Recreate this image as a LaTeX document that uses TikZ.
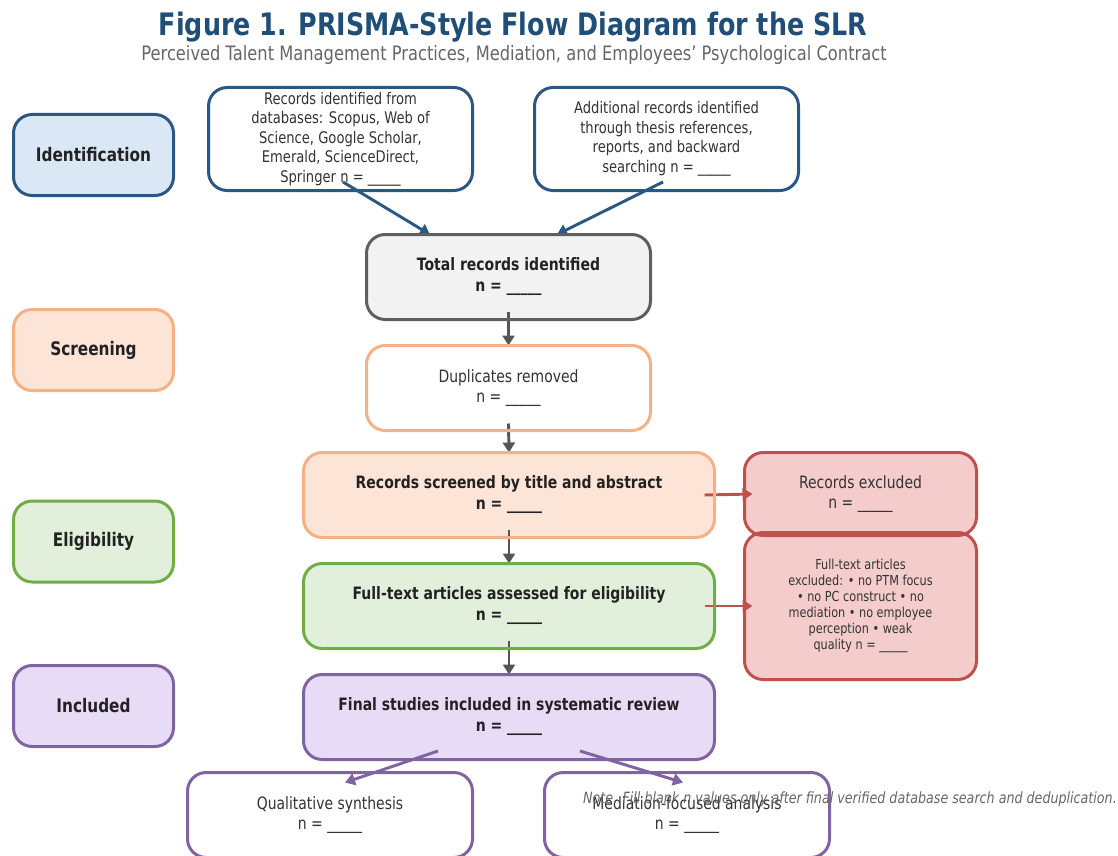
\documentclass[tikz,border=0pt]{standalone}
\usepackage{fontspec}
\setmainfont{DejaVu Sans}[FakeStretch=0.82]
\usetikzlibrary{calc,arrows.meta}

% colours
\definecolor{titleblue}{HTML}{1F4E79}
\definecolor{subgray}{HTML}{666666}
\definecolor{txtdark}{HTML}{222222}
\definecolor{txtreg}{HTML}{333333}
\definecolor{blueB}{HTML}{2B5784}
\definecolor{blueF}{HTML}{DAE8F5}
\definecolor{grayB}{HTML}{5F5F5F}
\definecolor{grayF}{HTML}{F2F2F2}
\definecolor{orangeB}{HTML}{F4B183}
\definecolor{orangeF}{HTML}{FCE4D6}
\definecolor{greenB}{HTML}{70AD47}
\definecolor{greenF}{HTML}{E2EFDA}
\definecolor{redB}{HTML}{C0504D}
\definecolor{redF}{HTML}{F4CCCC}
\definecolor{purpleB}{HTML}{8064A2}
\definecolor{purpleF}{HTML}{E8DBF6}
\definecolor{arrowgray}{HTML}{555555}

% font sizes
\newcommand\fsTitle{\fontsize{23.2pt}{27pt}\selectfont}
\newcommand\fsSub{\fontsize{14.9pt}{17pt}\selectfont}
\newcommand\fsPhase{\fontsize{14pt}{16pt}\selectfont}
\newcommand\fsBold{\fontsize{12.8pt}{15.75pt}\selectfont}
\newcommand\fsReg{\fontsize{12.75pt}{14.6pt}\selectfont}
\newcommand\fsSrc{\fontsize{12pt}{14.6pt}\selectfont}
\newcommand\fsSmall{\fontsize{10.3pt}{12pt}\selectfont}
\newcommand\fsNote{\fontsize{11.6pt}{13pt}\selectfont}
\newcommand\blank{\_\_\_\_\_}

\begin{document}
\begin{tikzpicture}[x=0.75pt,y=-0.75pt,
  box/.style={rounded corners=14pt, align=center, outer sep=0pt,
              inner sep=0pt, text=txtreg, font=\fsReg},
  phase/.style={box, minimum width=120pt, minimum height=60.75pt,
                font=\fsPhase\bfseries, text=txtdark},
  srcbox/.style={box, fill=white, minimum width=198pt,
                 minimum height=77.25pt, font=\fsSrc},
  midbox/.style={box, minimum width=213pt, minimum height=63.75pt},
  widebox/.style={box, minimum width=308.25pt, minimum height=63.75pt,
                  font=\fsBold\bfseries, text=txtdark},
  exbox/.style={box, fill=redF, minimum width=174pt},
  outbox/.style={box, fill=white, minimum width=213.75pt,
                 minimum height=63.75pt},
  rim/.style={line width=2.25pt, rounded corners=14pt},
  flow/.style={line width=2.2pt, -{Triangle[length=7.5pt,width=9pt]}},
]
\useasboundingbox (0,0) rectangle (1118,856);

% heading
\node[font=\fsTitle\bfseries, text=titleblue] (title) at (513,27)
  {Figure 1. PRISMA-Style Flow Diagram for the SLR};
\node[font=\fsSub, text=subgray] (subtitle) at (514,55)
  {Perceived Talent Management Practices, Mediation, and Employees’ Psychological Contract};

% phase labels (filled panels; outlines drawn last)
\node[phase, fill=blueF] (idl) at (93.5,155) {Identification};
\node[phase, fill=orangeF] (scl) at (93.5,350) {Screening};
\node[phase, fill=greenF] (ell) at (93.5,541.5) {Eligibility};
\node[phase, fill=purpleF] (inl) at (93.5,706) {Included};

% identification sources
\node[srcbox] (db) at (340.5,139)
  {Records identified from\\ databases: Scopus, Web of\\ Science, Google Scholar,\\
   Emerald, ScienceDirect,\\ Springer n = \blank};
\node[srcbox] (add) at (666.5,139)
  {Additional records identified\\ through thesis references,\\ reports, and backward\\
   searching n = \blank};

% main flow
\node[midbox, fill=grayF, font=\fsBold\bfseries, text=txtdark] (tot)
  at (508.5,277) {Total records identified\\ n = \blank};
\node[midbox, fill=white] (dup) at (508.5,388)
  {Duplicates removed\\ n = \blank};
\node[widebox, fill=orangeF] (scr) at (509,495)
  {Records screened by title and abstract\\ n = \blank};
\node[widebox, fill=greenF] (ful) at (509,606)
  {Full-text articles assessed for eligibility\\ n = \blank};
\node[widebox, fill=purpleF] (fin) at (509,717)
  {Final studies included in systematic review\\ n = \blank};

% exclusions
\node[exbox, minimum height=62.25pt] (exc) at (860.5,494)
  {Records excluded\\ n = \blank};
\node[exbox, minimum height=110.25pt, font=\fsSmall] (fex) at (860.5,606)
  {Full-text articles\\ excluded: • no PTM focus\\ • no PC construct • no\\
   mediation • no employee\\ perception • weak\\ quality n = \blank};

% outputs
\node[outbox] (qua) at (330,815) {Qualitative synthesis\\ n = \blank};
\node[outbox] (med) at (687,815) {Mediation-focused analysis\\ n = \blank};

% connectors
\draw[flow, blueB] ($(db.center)+(2.5,43)$) -- ($(tot.north)+(-78.5,0)$);
\draw[flow, blueB] ($(add.center)+(-3.5,43)$) -- ($(tot.north)+(48.5,0)$);
\draw[flow, arrowgray] ($(tot.south)+(0,-8)$) -- (dup.north);
\draw[flow, arrowgray] ($(dup.south)+(0,-7)$) -- (scr.north);
\draw[flow, arrowgray] ($(scr.south)+(0,-8)$) -- (ful.north);
\draw[flow, arrowgray] ($(ful.south)+(0,-8)$) -- (fin.north);
\draw[flow, redB] ($(scr.east)+(-10,0)$) -- ($(exc.west)+(8,0)$);
\draw[flow, redB] ($(ful.east)+(-10,0)$) -- ($(fex.west)+(8,0)$);
\draw[flow, purpleB] ($(fin.center)+(-71,34)$) -- ($(qua.north)+(15,10)$);
\draw[flow, purpleB] ($(fin.center)+(71,34)$) -- ($(med.north)+(-4,10)$);

% box outlines on top of the connectors
\foreach \n/\c in {idl/blueB, scl/orangeB, ell/greenB, inl/purpleB,
                   db/blueB, add/blueB, tot/grayB, dup/orangeB, scr/orangeB,
                   ful/greenB, fin/purpleB, exc/redB, fex/redB,
                   qua/purpleB, med/purpleB}
  \draw[rim, \c] (\n.south west) rectangle (\n.north east);

% footnote
\node[anchor=east, inner sep=0pt, font=\fsNote\itshape, text=subgray] (note)
  at (1117,799)
  {Note. Fill blank n values only after final verified database search and deduplication.};
\end{tikzpicture}
\end{document}
